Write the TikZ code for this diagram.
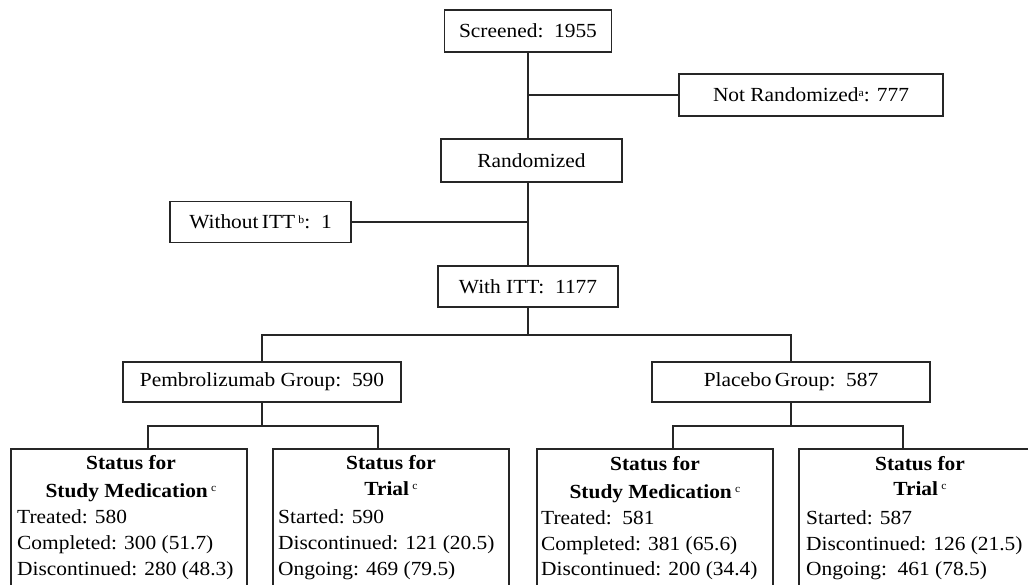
\documentclass[tikz,border=0pt]{standalone}
\usepackage{fontspec}
\setmainfont{Liberation Serif}[FakeStretch=1.07]
\newcommand{\supl}[1]{\raisebox{0.55ex}{\fontsize{11}{11}\selectfont\mdseries #1}}
\begin{document}
\begin{tikzpicture}[x=1pt,y=-1pt,
  box/.style={draw=black!85, line width=1.4pt, inner sep=0pt, font=\fontsize{20}{24}\selectfont},
  conn/.style={draw=black!85, line width=1.4pt},
  hdr/.style={anchor=base, inner sep=0pt, font=\fontsize{20}{24}\selectfont\bfseries},
  dat/.style={anchor=base west, inner sep=0pt, font=\fontsize{20}{24}\selectfont}]
\useasboundingbox (0,0) rectangle (1028,584);
\clip (0,0) rectangle (1028,584);

% top chain
\node[box, minimum width=167pt, minimum height=42pt] (scr) at (528,31) {Screened:\ \ 1955};
\node[box, minimum width=264pt, minimum height=42pt] (notr) at (811,95) {Not Randomized\supl{a}: 777};
\node[box, minimum width=181pt, minimum height=43pt] (rand) at (531.5,160.5) {Randomized};
\node[box, minimum width=181pt, minimum height=41pt] (wout) at (260.5,222) {Without\,ITT\,\supl{b}:\ \ 1};
\node[box, minimum width=180pt, minimum height=41pt] (with) at (528,286.5) {With ITT:\ \ 1177};
\node[box, minimum width=278pt, minimum height=40pt] (pem) at (262,382) {Pembrolizumab Group:\ \ 590};
\node[box, minimum width=278pt, minimum height=40pt] (pla) at (791,382) {Placebo\,Group:\ \ 587};

\draw[conn] (scr.south) -- (scr.south |- rand.north);
\coordinate (j1) at (scr.south |- notr.west);
\draw[conn] (j1) -- (notr.west);
\draw[conn] (with.north |- rand.south) -- (with.north);
\draw[conn] (wout.east) -- (wout.east -| with.north);
\coordinate (h1) at (528,335);
\draw[conn] (with.south) -- (h1);
\draw[conn] (pem.north) |- (h1) -| (pla.north);

% bottom boxes
\node[box, minimum width=236pt, minimum height=160pt] (b1) at (129,529) {};
\node[box, minimum width=236pt, minimum height=160pt] (b2) at (391,529) {};
\node[box, minimum width=236pt, minimum height=160pt] (b3) at (655,529) {};
\node[box, minimum width=236pt, minimum height=160pt] (b4) at (917,529) {};

\coordinate (h2) at (pem.south |- 0,426);
\coordinate (t1) at (148,449);
\coordinate (t2) at (378,449);
\draw[conn] (pem.south) -- (h2);
\draw[conn] (t1) -- (t1 |- h2) -- (t2 |- h2) -- (t2);
\coordinate (h3) at (pla.south |- 0,426);
\coordinate (t3) at (673,449);
\coordinate (t4) at (903,449);
\draw[conn] (pla.south) -- (h3);
\draw[conn] (t3) -- (t3 |- h3) -- (t4 |- h3) -- (t4);

% box texts
\node[hdr] (b1h1) at (131,469) {Status for};
\node[hdr] (b1h2) at (131,497) {Study Medication\,\supl{c}};
\node[dat] (b1d1) at (17,523) {Treated: 580};
\node[dat] (b1d2) at (17,549) {Completed: 300 (51.7)};
\node[dat] (b1d3) at (17,575) {Discontinued: 280 (48.3)};

\node[hdr] (b2h1) at (391,469) {Status for};
\node[hdr] (b2h2) at (391,495) {Trial\,\supl{c}};
\node[dat] (b2d1) at (278,523) {Started: 590};
\node[dat] (b2d2) at (278,549) {Discontinued: 121 (20.5)};
\node[dat] (b2d3) at (278,575) {Ongoing: 469 (79.5)};

\node[hdr] (b3h1) at (655,470) {Status for};
\node[hdr] (b3h2) at (655,498) {Study Medication\,\supl{c}};
\node[dat] (b3d1) at (541,524) {Treated:\ \ 581};
\node[dat] (b3d2) at (541,550) {Completed: 381 (65.6)};
\node[dat] (b3d3) at (541,575) {Discontinued: 200 (34.4)};

\node[hdr] (b4h1) at (920,470) {Status for};
\node[hdr] (b4h2) at (920,495) {Trial\,\supl{c}};
\node[dat] (b4d1) at (806,524) {Started: 587};
\node[dat] (b4d2) at (806,550) {Discontinued: 126 (21.5)};
\node[dat] (b4d3) at (806,575) {Ongoing:\ \ 461 (78.5)};
\end{tikzpicture}
\end{document}
